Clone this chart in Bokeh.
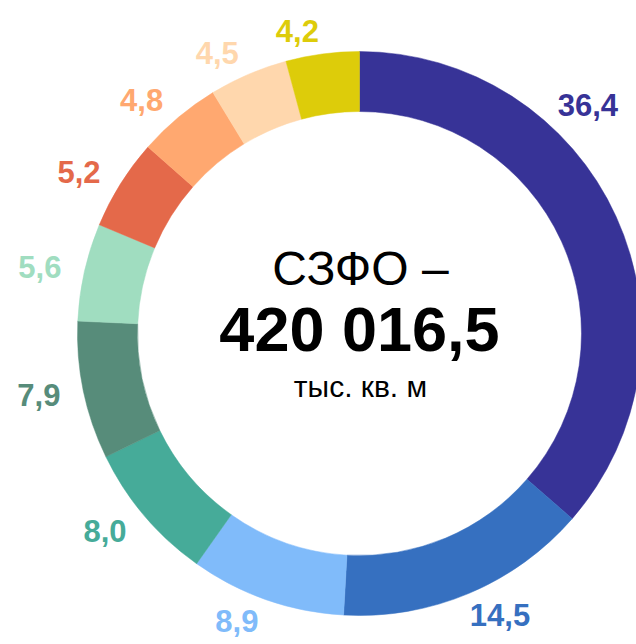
import math
from bokeh.plotting import figure
from bokeh.models import Range1d, ColumnDataSource
from bokeh.core.properties import value
from bokeh.embed import file_html
from bokeh.resources import INLINE

# ---- data ----
shares = [36.4, 14.5, 8.9, 8.0, 7.9, 5.6, 5.2, 4.8, 4.5, 4.2]
labels = ["36,4", "14,5", "8,9", "8,0", "7,9", "5,6", "5,2", "4,8", "4,5", "4,2"]
colors = ["#373397", "#3670C0", "#80BBFA", "#46AB99", "#578C7A",
          "#A0DDC0", "#E4694A", "#FFA870", "#FFD7AD", "#DDCC0A"]
title_line1 = "СЗФО –"
title_total = "420 016,5"
title_unit = "тыс. кв. м"

W, H = 636, 644
CX, CY = 359, 311
R_IN, R_OUT = 222, 282
R_LBL = 305
PUSH = 22

total = sum(shares)
starts, ends, mids = [], [], []
acc = 0.0
for s in shares:
    a0 = math.pi / 2 - acc / total * 2 * math.pi
    acc += s
    a1 = math.pi / 2 - acc / total * 2 * math.pi
    starts.append(a0)
    ends.append(a1)
    mids.append((a0 + a1) / 2)

# label positions: on the mid angle, pushed sideways away from the ring;
# the first (largest) label is pulled up into the corner to stay inside the view
lx, ly = [], []
for i, m in enumerate(mids):
    if i == 0:
        ang, r = math.pi / 4, 323
        lx.append(CX + r * math.cos(ang))
        ly.append(CY + r * math.sin(ang))
        continue
    c = math.cos(m)
    lx.append(CX + R_LBL * c + PUSH * (1 if c >= 0 else -1))
    ly.append(CY + R_LBL * math.sin(m))

p = figure(width=W, height=H, output_backend="svg", toolbar_location=None,
           x_range=Range1d(0, W), y_range=Range1d(0, H), min_border=0)
p.axis.visible = False
p.grid.visible = False
p.outline_line_color = None
p.background_fill_color = "white"

src = ColumnDataSource(dict(start=starts, end=ends, color=colors))
p.annular_wedge(x=CX, y=CY, inner_radius=R_IN, outer_radius=R_OUT,
                start_angle="start", end_angle="end", direction="clock",
                fill_color="color", line_color="color", line_width=0.5, source=src)

lsrc = ColumnDataSource(dict(x=lx, y=ly, text=labels, color=colors))
p.text(x="x", y="y", text="text", text_color="color", source=lsrc,
       text_font=value("Liberation Sans"), text_font_style="bold",
       text_font_size="31px", text_align="center", text_baseline="middle")

p.text(x=[CX + 1], y=[CY + 65], text=[title_line1], text_color="black",
       text_font=value("Liberation Sans"), text_font_size="48px",
       text_align="center", text_baseline="middle")
p.text(x=[CX], y=[CY + 5], text=[title_total], text_color="black",
       text_font=value("Liberation Sans"), text_font_style="bold",
       text_font_size="63px", text_align="center", text_baseline="middle")
p.text(x=[CX + 1], y=[CY - 53], text=[title_unit], text_color="black",
       text_font=value("Liberation Sans"), text_font_size="30px",
       text_align="center", text_baseline="middle")

open("out.html", "w").write(file_html(p, INLINE))
